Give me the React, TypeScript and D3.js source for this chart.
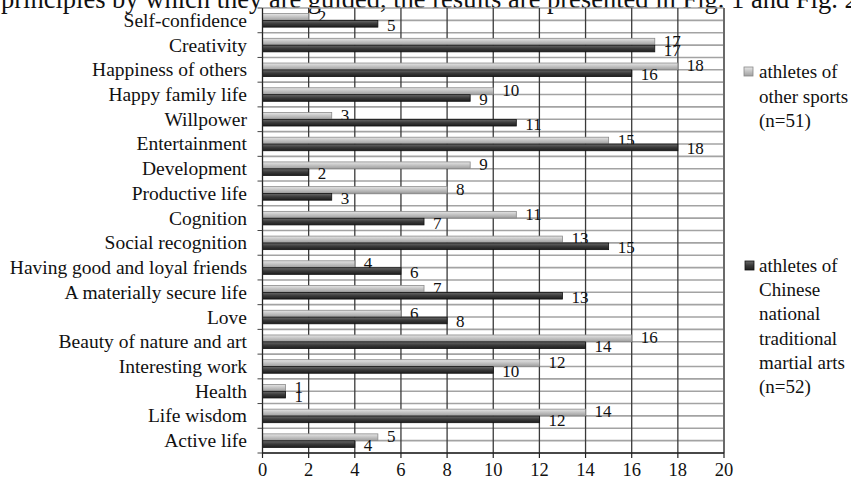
import * as d3 from 'd3'

const categories = [
  'Self-confidence', 'Creativity', 'Happiness of others', 'Happy family life', 'Willpower',
  'Entertainment', 'Development', 'Productive life', 'Cognition', 'Social recognition',
  'Having good and loyal friends', 'A materially secure life', 'Love', 'Beauty of nature and art',
  'Interesting work', 'Health', 'Life wisdom', 'Active life',
]
const otherSports = [2, 17, 18, 10, 3, 15, 9, 8, 11, 13, 4, 7, 6, 16, 12, 1, 14, 5]
const martialArts = [5, 17, 16, 9, 11, 18, 2, 3, 7, 15, 6, 13, 8, 14, 10, 1, 12, 4]
const xTicks = [0, 2, 4, 6, 8, 10, 12, 14, 16, 18, 20]
const seriesNames = ['other', 'martial']
const legendOther = ['athletes of', 'other sports', '(n=51)']
const legendMartial = ['athletes of', 'Chinese', 'national', 'traditional', 'martial arts', '(n=52)']
const topText = 'principles by which they are guided, the results are presented in Fig. 1 and Fig. 2'

const W = 851, H = 482
const m = { top: 8, left: 262.5, right: 127, bottom: 29 }
const FONT = '"Liberation Serif", "Times New Roman", serif'

export default function App() {
  const x = d3.scaleLinear().domain([0, 20]).range([m.left, W - m.right])
  const y = d3.scaleBand().domain(categories).range([m.top, H - m.bottom])
    .paddingInner(0.43).paddingOuter(0.215)
  const sub = d3.scaleBand().domain(seriesNames).range([0, y.bandwidth()]).padding(0.04)
  const step = y.step()
  const y0 = m.top, y1 = H - m.bottom

  const hLines = d3.range(0, categories.length * 2 + 1).map(i => y0 + i * step / 2)
  const boundaries = d3.range(0, categories.length + 1).map(i => y0 + i * step)

  const series = [
    { key: 'other', values: otherSports, fill: 'url(#gLight)', stroke: '#8a8a8a', dy: 5 },
    { key: 'martial', values: martialArts, fill: 'url(#gDark)', stroke: '#111', dy: 7 },
  ]

  return (
    <div style={{ position: 'absolute', left: 0, top: 0 }}>
      <svg width={W} height={H} style={{ display: 'block', background: '#fff', fontFamily: FONT }}>
        <defs>
          <linearGradient id="gLight" x1="0" y1="0" x2="0" y2="1">
            <stop offset="0%" stopColor="#e6e6e6" />
            <stop offset="50%" stopColor="#c2c2c2" />
            <stop offset="100%" stopColor="#a0a0a0" />
          </linearGradient>
          <linearGradient id="gDark" x1="0" y1="0" x2="0" y2="1">
            <stop offset="0%" stopColor="#6a6a6a" />
            <stop offset="50%" stopColor="#3a3a3a" />
            <stop offset="100%" stopColor="#1e1e1e" />
          </linearGradient>
        </defs>

        <text x={1} y={8} fontSize={26.5} fill="#111">{topText}</text>

        {/* horizontal gridlines every half category */}
        {hLines.map((yy, i) => (
          <line key={'h' + i} x1={m.left} x2={x(20)} y1={yy} y2={yy} stroke="#a3a3a3" strokeWidth={1.6} />
        ))}
        {/* vertical gridlines */}
        {xTicks.slice(1).map(t => (
          <line key={'v' + t} x1={x(t)} x2={x(t)} y1={y0} y2={y1}
            stroke={t === 20 ? '#6a6a6a' : '#3a3a3a'} strokeWidth={t === 20 ? 2 : 1.3} />
        ))}

        {/* bars */}
        {series.map(s => (
          <g key={s.key}>
            {categories.map((c, i) => {
              const by = (y(c) || 0) + (sub(s.key) || 0)
              return (
                <g key={c}>
                  <rect x={x(0)} y={by} width={x(s.values[i]) - x(0)} height={sub.bandwidth()}
                    fill={s.fill} stroke={s.stroke} strokeWidth={0.8} />
                  <text x={x(s.values[i]) + 9} y={by + sub.bandwidth() / 2 + s.dy}
                    fontSize={17} fill="#111">{s.values[i]}</text>
                </g>
              )
            })}
          </g>
        ))}

        {/* left axis */}
        <line x1={m.left} x2={m.left} y1={y0} y2={y1} stroke="#222" strokeWidth={1.3} />
        {boundaries.map((b, i) => (
          <line key={'lt' + i} x1={m.left - 5} x2={m.left} y1={b} y2={b} stroke="#444" strokeWidth={1} />
        ))}
        {categories.map(c => (
          <text key={c} x={247} y={(y(c) || 0) + y.bandwidth() / 2 + 6.5} textAnchor="end"
            fontSize={19.5} fill="#111">{c}</text>
        ))}

        {/* bottom axis */}
        <line x1={m.left} x2={x(20)} y1={y1} y2={y1} stroke="#222" strokeWidth={1.3} />
        {xTicks.map(t => (
          <g key={'bt' + t}>
            <line x1={x(t)} x2={x(t)} y1={y1} y2={y1 + 5} stroke="#222" strokeWidth={1.2} />
            <text x={x(t)} y={y1 + 23} textAnchor="middle" fontSize={18.5} fill="#111">{t}</text>
          </g>
        ))}

        {/* legend */}
        <rect x={744} y={67} width={9} height={9} fill="url(#gLight)" stroke="#888" strokeWidth={0.8} />
        {legendOther.map((l, i) => (
          <text key={'lo' + i} x={759} y={78 + i * 24.5} fontSize={19} fill="#111">{l}</text>
        ))}
        <rect x={745} y={261} width={9} height={9} fill="url(#gDark)" stroke="#111" strokeWidth={0.8} />
        {legendMartial.map((l, i) => (
          <text key={'lm' + i} x={759} y={272 + i * 24.2} fontSize={19} fill="#111">{l}</text>
        ))}
      </svg>
    </div>
  )
}
